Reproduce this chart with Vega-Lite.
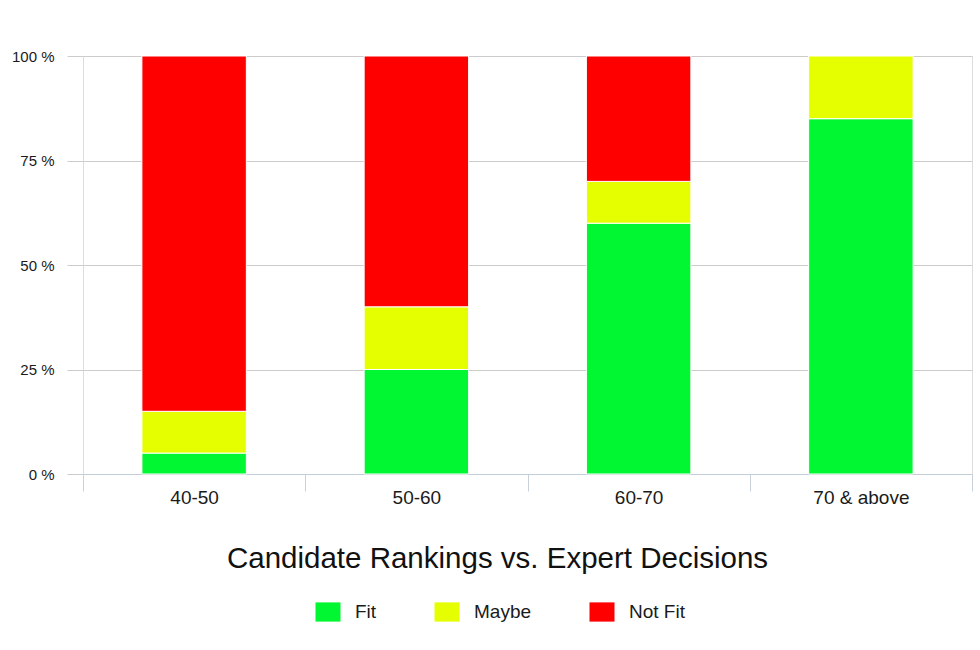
{
  "$schema": "https://vega.github.io/schema/vega-lite/v6.json",
  "autosize": {"type": "none"},
  "width": 889,
  "height": 418,
  "padding": {"left": 83, "top": 56, "right": 8, "bottom": 176},
  "background": "#ffffff",
  "data": {
    "values": [
      {"range": "40-50", "decision": "Fit", "pct": 5},
      {"range": "40-50", "decision": "Maybe", "pct": 10},
      {"range": "40-50", "decision": "Not Fit", "pct": 85},
      {"range": "50-60", "decision": "Fit", "pct": 25},
      {"range": "50-60", "decision": "Maybe", "pct": 15},
      {"range": "50-60", "decision": "Not Fit", "pct": 60},
      {"range": "60-70", "decision": "Fit", "pct": 60},
      {"range": "60-70", "decision": "Maybe", "pct": 10},
      {"range": "60-70", "decision": "Not Fit", "pct": 30},
      {"range": "70 & above", "decision": "Fit", "pct": 85},
      {"range": "70 & above", "decision": "Maybe", "pct": 15}
    ]
  },
  "mark": {"type": "bar", "stroke": "#ffffff", "strokeWidth": 1, "width": {"band": 0.47}},
  "encoding": {
    "x": {
      "field": "range",
      "type": "nominal",
      "sort": ["40-50", "50-60", "60-70", "70 & above"],
      "scale": {"paddingInner": 0, "paddingOuter": 0},
      "axis": {
        "title": "Candidate Rankings vs. Expert Decisions",
        "titleFontSize": 29.5,
        "titleFontWeight": "normal",
        "titleColor": "#111111",
        "titleFont": "Liberation Sans",
        "titlePadding": 37,
        "titleX": 414,
        "labelAngle": 0,
        "labelFont": "Liberation Sans",
        "labelFontSize": 19,
        "labelColor": "#1a1a1a",
        "labelPadding": -3,
        "tickBand": "extent",
        "tickSize": 17,
        "tickColor": "#c9d2db",
        "domainColor": "#c3cdd8",
        "grid": false
      }
    },
    "y": {
      "field": "pct",
      "type": "quantitative",
      "stack": true,
      "scale": {"domain": [0, 100]},
      "axis": {
        "title": null,
        "values": [0, 25, 50, 75, 100],
        "labelExpr": "datum.value + ' %'",
        "labelFont": "Liberation Sans",
        "labelFontSize": 15,
        "labelColor": "#1a1a1a",
        "tickSize": 16,
        "tickColor": "#cccccc",
        "labelPadding": 13,
        "domain": false,
        "grid": true,
        "gridColor": "#cccccc"
      }
    },
    "color": {
      "field": "decision",
      "type": "nominal",
      "scale": {"domain": ["Fit", "Maybe", "Not Fit"], "range": ["#00f731", "#e6ff00", "#ff0000"]},
      "legend": {
        "title": null,
        "orient": "none",
        "legendX": 235,
        "legendY": 546,
        "padding": 0,
        "direction": "horizontal",
        "symbolType": "M-1.3,-1H1.3V1H-1.3Z",
        "symbolSize": 370,
        "symbolStrokeWidth": 0,
        "symbolOpacity": 1,
        "labelFont": "Liberation Sans",
        "labelFontSize": 19,
        "labelColor": "#1a1a1a",
        "labelOffset": 17,
        "columnPadding": 57
      }
    },
    "order": {"field": "decision", "sort": "ascending"}
  }
}
